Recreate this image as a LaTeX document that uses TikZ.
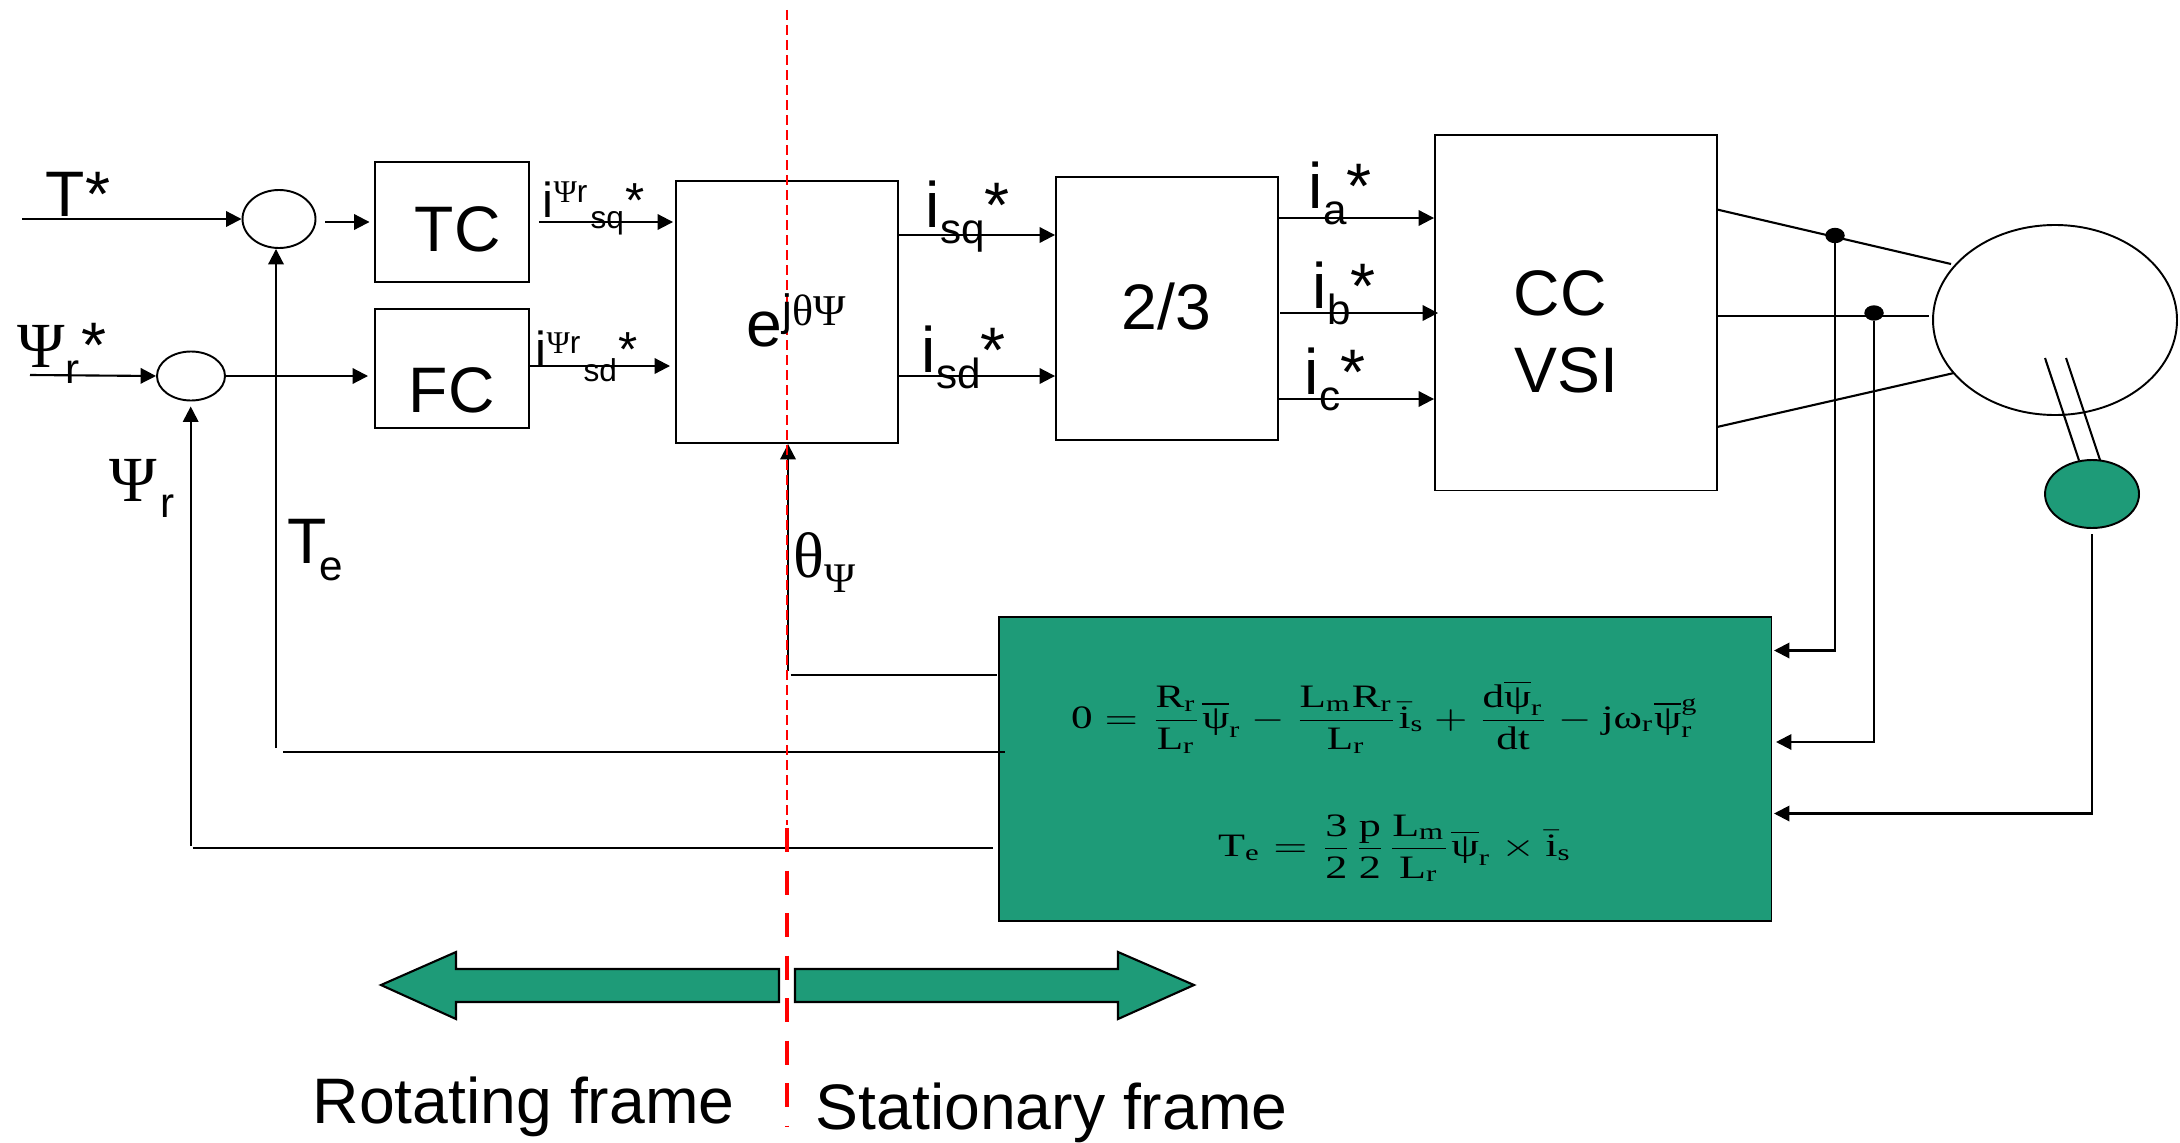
\documentclass[tikz,border=0pt]{standalone}
\usepackage{amsmath}
\usepackage{fontspec}
\setmainfont{Liberation Sans}
\setmathrm{Liberation Serif}
\newfontfamily\serifgr{Liberation Serif}
\usetikzlibrary{arrows.meta, shapes.geometric}
\definecolor{estgreen}{RGB}{30,155,120}
\newcommand{\bigsize}{\fontsize{18.3}{20}\selectfont}
\newcommand{\lowsub}[1]{\raisebox{-0.16cm}{\fontsize{12}{14}\selectfont #1}}
\newcommand{\psibar}{\overline{\text{\serifgr ψ}}}
\newcommand{\refcur}[3]{{\fontsize{14}{16}\selectfont i\raisebox{#1}{{\fontsize{9}{10}\selectfont{\serifgr Ψ}r}}\hspace{0.03cm}\raisebox{#2}{\fontsize{9}{10}\selectfont #3}\hspace{0.02cm}*}}
\tikzset{
    blockbox/.style={draw, line width=0.55pt, inner sep=0pt},
    sumnode/.style={draw, ellipse, line width=0.55pt, inner sep=0pt},
    dotnode/.style={draw, ellipse, fill=black, inner sep=0pt, minimum width=0.18cm, minimum height=0.14cm},
    sig/.style={-{Triangle[length=4.4pt,width=4.4pt]}, line width=0.6pt},
    plainline/.style={line width=0.6pt},
    lbl/.style={anchor=base west, inner sep=0pt, font=\bigsize},
    eqnode/.style={inner sep=0pt, transform shape, font=\fontsize{9.3}{11}\selectfont},
    framearrow/.style={draw, fill=estgreen, line width=0.6pt}
}
\begin{document}
\begin{tikzpicture}
    \useasboundingbox (0,0) rectangle (21.8,11.42);

    % Blocks
    \node[blockbox, minimum width=1.54cm, minimum height=1.20cm] (tc) at (4.52,9.20) {};
    \node[blockbox, minimum width=1.54cm, minimum height=1.19cm] (fc) at (4.52,7.735) {};
    \node[blockbox, minimum width=2.22cm, minimum height=2.62cm] (rot) at (7.87,8.30) {};
    \node[blockbox, minimum width=2.22cm, minimum height=2.63cm] (conv) at (11.67,8.335) {};
    \node[blockbox, minimum width=2.82cm, minimum height=3.555cm] (vsi) at (15.76,8.2925) {};
    \node[blockbox, fill=estgreen, minimum width=7.725cm, minimum height=3.04cm] (est) at (13.8525,3.73) {};

    % Summing points
    \node[sumnode, minimum width=0.73cm, minimum height=0.58cm] (sumt) at (2.79,9.23) {};
    \node[sumnode, minimum width=0.68cm, minimum height=0.49cm] (sumf) at (1.91,7.66) {};

    % Machine and sensor
    \node[sumnode, minimum width=2.44cm, minimum height=1.90cm] (motor) at (20.55,8.22) {};
    \node[sumnode, fill=estgreen, minimum width=0.94cm, minimum height=0.68cm] (sensor) at (20.92,6.48) {};
    \node[dotnode] (dota) at (18.35,9.065) {};
    \node[dotnode] (dotb) at (18.74,8.29) {};

    % Free ends
    \coordinate (tin) at (0.22,9.23);
    \coordinate (fin) at (0.30,7.67);
    \coordinate (rotq) at (8.99,9.07);
    \coordinate (rotd) at (8.99,7.66);
    \coordinate (conva) at (12.78,9.24);
    \coordinate (convb) at (12.80,8.29);
    \coordinate (convc) at (12.78,7.43);
    \coordinate (vsia) at (17.17,9.325);
    \coordinate (vsib) at (17.17,8.26);
    \coordinate (vsic) at (17.17,7.15);
    \coordinate (mota) at (19.51,8.78);
    \coordinate (motb) at (19.29,8.26);
    \coordinate (motc) at (19.54,7.69);
    \coordinate (shafta) at (20.45,7.84);
    \coordinate (shaftb) at (20.66,7.84);
    \coordinate (shaftc) at (20.79,6.815);
    \coordinate (shaftd) at (21.00,6.82);
    \coordinate (senso) at (20.92,6.08);
    \coordinate (thetabot) at (7.88,4.71);
    \coordinate (thetastart) at (7.907,4.67);
    \coordinate (thetaend) at (9.97,4.67);
    \coordinate (tebot) at (2.76,3.94);
    \coordinate (testart) at (2.83,3.90);
    \coordinate (teend) at (10.05,3.90);
    \coordinate (fluxbot) at (1.907,2.96);
    \coordinate (fluxstart) at (1.927,2.94);
    \coordinate (fluxend) at (9.93,2.94);
    \coordinate (ina) at (17.74,4.915);
    \coordinate (inb) at (17.76,4.00);
    \coordinate (inc) at (17.74,3.285);

    % Forward path
    \draw[sig] (tin) -- (sumt.west);
    \draw[sig, shorten <=0.09cm, shorten >=0.045cm] (sumt.east |- tc.west) -- (tc.west);
    \draw[sig] (fin) -- (sumf.west);
    \draw[sig, shorten >=0.06cm] (sumf.east) -- (sumf.east -| fc.west);
    \draw[sig, shorten <=0.09cm, shorten >=0.02cm] (tc.east) -- (tc.east -| rot.west);
    \draw[sig, shorten >=0.05cm] ([yshift=0.025cm]fc.east) -- ([yshift=0.025cm]fc.east -| rot.west);
    \draw[sig] (rotq) -- (rotq -| conv.west);
    \draw[sig] (rotd) -- (rotd -| conv.west);
    \draw[sig] (conva) -- (conva -| vsi.west);
    \draw[sig, shorten >=-0.04cm] (convb) -- (convb -| vsi.west);
    \draw[sig] (convc) -- (convc -| vsi.west);

    % Machine leads
    \draw[plainline] (vsia) -- (mota);
    \draw[plainline] (vsib) -- (motb);
    \draw[plainline] (vsic) -- (motc);
    \draw[plainline] (shafta) -- (shaftc);
    \draw[plainline] (shaftb) -- (shaftd);

    % Feedback
    \draw[sig] (dota.south) |- (ina);
    \draw[sig] (dotb.south) |- (inb);
    \draw[sig] (senso) |- (inc);
    \draw[sig] (thetabot) -- (thetabot |- rot.south);
    \draw[plainline] (thetastart) -- (thetaend);
    \draw[sig] (tebot) -- (tebot |- sumt.south);
    \draw[plainline] (testart) -- (teend);
    \draw[sig, shorten >=0.05cm] (fluxbot) -- (fluxbot |- sumf.south);
    \draw[plainline] (fluxstart) -- (fluxend);

    % Frame arrows
    \filldraw[framearrow] (3.81,1.57) -- (4.56,1.90) -- (4.56,1.73) -- (7.79,1.73) -- (7.79,1.40) -- (4.56,1.40) -- (4.56,1.23) -- cycle;
    \filldraw[framearrow] (11.94,1.57) -- (11.18,1.90) -- (11.18,1.73) -- (7.95,1.73) -- (7.95,1.40) -- (11.18,1.40) -- (11.18,1.23) -- cycle;

    % Frame border
    \draw[red, line width=0.55pt, dash pattern=on 0.10cm off 0.05cm] (7.87,11.32) -- (7.87,3.17);
    \draw[red, line width=1.4pt, dash pattern=on 0.24cm off 0.185cm] (7.87,3.14) -- (7.87,0.16);

    % Labels
    \node[lbl] (ttext) at (0.45,9.26) {T*};
    \node[lbl] (tctext) at (4.14,8.91) {TC};
    \node[lbl] (fctext) at (4.08,7.30) {FC};
    \node[lbl] (fstar) at (0.17,7.75) {{\serifgr Ψ}\lowsub{r}\hspace{0.02cm}*};
    \node[lbl] (flux) at (1.09,6.41) {{\serifgr Ψ}\hspace{0.03cm}\lowsub{r}};
    \node[lbl] (te) at (2.87,5.79) {T\hspace{-0.07cm}\raisebox{-0.17cm}{\fontsize{12}{14}\selectfont e}};
    \node[lbl] (iq) at (5.42,9.25) {\refcur{0.15cm}{-0.11cm}{sq}};
    \node[lbl] (id) at (5.35,7.76) {\refcur{0.13cm}{-0.15cm}{sd}};
    \node[lbl] (rottext) at (7.46,7.96) {e\raisebox{0.21cm}{\fontsize{12.5}{14}\selectfont j{\serifgr θΨ}}};
    \node[lbl] (theta) at (7.93,5.65) {{\serifgr θ}\raisebox{-0.15cm}{\fontsize{12}{14}\selectfont\serifgr Ψ}};
    \node[lbl] (isq) at (9.25,9.15) {i\lowsub{sq}*};
    \node[lbl] (isd) at (9.21,7.70) {i\lowsub{sd}*};
    \node[lbl] (convtext) at (11.21,8.13) {2/3};
    \node[lbl] (ia) at (13.08,9.34) {i\lowsub{a}*};
    \node[lbl] (ib) at (13.12,8.34) {i\lowsub{b}*};
    \node[lbl] (ic) at (13.04,7.48) {i\lowsub{c}*};
    \node[lbl] (cctext) at (15.13,8.27) {CC};
    \node[lbl] (vsitext) at (15.14,7.50) {VSI};
    \node[lbl] (rotframe) at (3.12,0.19) {Rotating frame};
    \node[lbl] (statframe) at (8.15,0.13) {Stationary frame};

    % Machine equations
    \node[eqnode, xscale=1.32] (eqflux) at (13.85,4.25) {$\displaystyle \mathrm{0}=\frac{\mathrm{R_r}}{\mathrm{L_r}}\psibar_{\mathrm{r}}-\frac{\mathrm{L_m R_r}}{\mathrm{L_r}}\bar{\mathrm{i}}_{\mathrm{s}}+\frac{\mathrm{d}\psibar_{\mathrm{r}}}{\mathrm{dt}}-\mathrm{j}\text{\serifgr ω}_{\mathrm{r}}\psibar_{\mathrm{r}}^{\mathrm{g}}$};
    \node[eqnode, xscale=1.35] (eqtorque) at (13.95,2.94) {$\displaystyle \mathrm{T_e}=\frac{\mathrm{3}}{\mathrm{2}}\frac{\mathrm{p}}{\mathrm{2}}\frac{\mathrm{L_m}}{\mathrm{L_r}}\psibar_{\mathrm{r}}\times\bar{\mathrm{i}}_{\mathrm{s}}$};
\end{tikzpicture}
\end{document}
